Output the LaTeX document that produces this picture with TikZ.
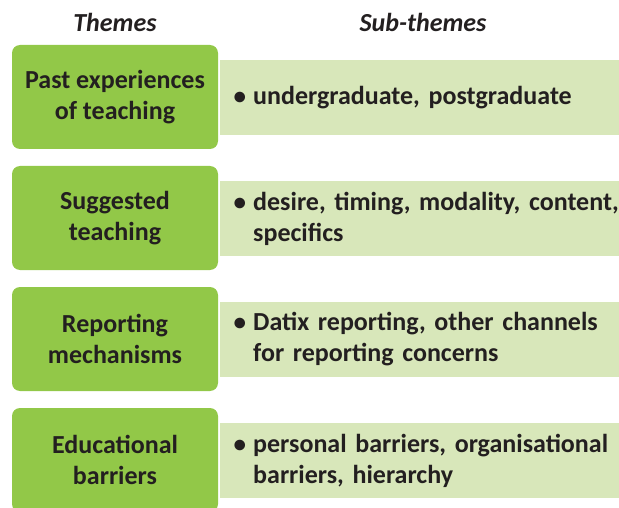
\documentclass[tikz,border=0pt]{standalone}
\usepackage{fontspec}
\setmainfont{Carlito}
\usepackage{xcolor}
\usepackage{tikz}
\usetikzlibrary{positioning}
\definecolor{themegreen}{RGB}{146,200,72}
\definecolor{subgreen}{RGB}{216,231,186}
\definecolor{inkdark}{RGB}{35,31,32}
\tikzset{
    theme/.style = {fill=themegreen, rounded corners=8pt, minimum width=206pt,
        minimum height=104pt, align=center, inner sep=0pt, text=inkdark,
        font=\fontsize{26}{31}\selectfont\bfseries},
    sub/.style = {fill=subgreen, minimum width=399pt, minimum height=75pt,
        text width=372pt, inner xsep=13.5pt, inner ysep=0pt, text=inkdark,
        font=\fontsize{26}{31}\selectfont\bfseries},
    heading/.style = {inner sep=0pt, text=inkdark,
        font=\fontsize{26}{30}\selectfont\bfseries\itshape}
}
% bullet with hanging second line, allowed to run past the box
\newcommand{\bulitem}[1]{\noindent\rlap{\makebox[19.5pt][l]{\fontsize{25}{25}\selectfont\textbullet}\parbox[t]{500pt}{#1}}}

\begin{document}
\begin{tikzpicture}[x=1pt, y=-1pt]
    \useasboundingbox (0, 0) rectangle (619, 508);
    \begin{scope}
        \clip (0, 0) rectangle (619, 508);

        % headings
        \node [heading] (h1) at (115, 22) {Themes};
        \node [heading] (h2) at (423, 22) {Sub-themes};

        % themes
        \node [theme] (t1) at (115, 97) {Past experiences\\of teaching};
        \node [theme] (t2) at (115, 218) {Suggested\\teaching};
        \node [theme] (t3) at (115, 339) {Reporting\\mechanisms};
        \node [theme] (t4) at (115, 460) {Educational\\barriers};

        % sub-themes
        \node [sub, anchor=west] (s1) at (220, 97.5) {\bulitem{undergraduate, postgraduate}};
        \node [sub, anchor=west] (s2) at (220, 218.5) {\bulitem{desire, timing, modality, content,\\specifics}};
        \node [sub, anchor=west] (s3) at (220, 339.5) {\bulitem{Datix reporting, other channels\\for reporting concerns}};
        \node [sub, anchor=west] (s4) at (220, 460.5) {\bulitem{personal barriers, organisational\\barriers, hierarchy}};
    \end{scope}
\end{tikzpicture}
\end{document}
